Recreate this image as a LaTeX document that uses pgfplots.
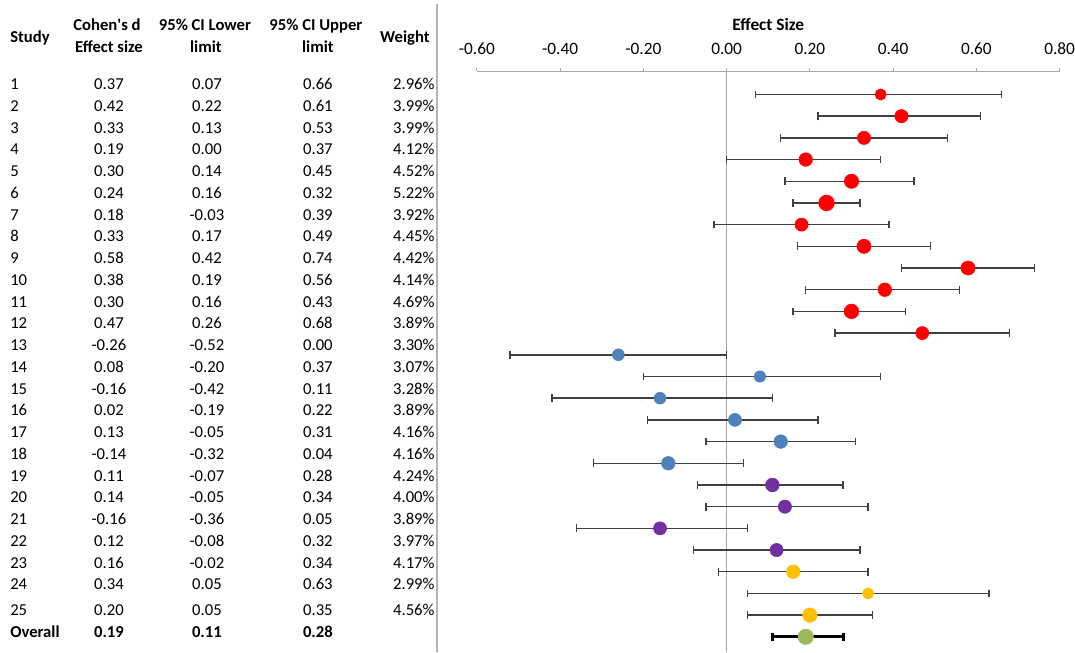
\documentclass[border=0pt]{standalone}
\usepackage{pgfplots}
\pgfplotsset{compat=1.18}
\usepackage{pgfplotstable}
\usepackage{fontspec}
\setmainfont{Carlito}

\definecolor{ered}{HTML}{FF0000}
\definecolor{eblue}{HTML}{4F81BD}
\definecolor{epurple}{HTML}{7030A0}
\definecolor{eyellow}{HTML}{FFC000}
\definecolor{egreen}{HTML}{9BBB59}
\definecolor{cigray}{HTML}{404040}
\definecolor{axgray}{HTML}{A6A6A6}
\definecolor{sepgray}{HTML}{B4B4B4}

\pgfplotstableread{
study es lo hi w
1 0.37 0.07 0.66 2.96
2 0.42 0.22 0.61 3.99
3 0.33 0.13 0.53 3.99
4 0.19 0.00 0.37 4.12
5 0.30 0.14 0.45 4.52
6 0.24 0.16 0.32 5.22
7 0.18 -0.03 0.39 3.92
8 0.33 0.17 0.49 4.45
9 0.58 0.42 0.74 4.42
10 0.38 0.19 0.56 4.14
11 0.30 0.16 0.43 4.69
12 0.47 0.26 0.68 3.89
}\tabred
\pgfplotstableread{
study es lo hi w
13 -0.26 -0.52 0.00 3.30
14 0.08 -0.20 0.37 3.07
15 -0.16 -0.42 0.11 3.28
16 0.02 -0.19 0.22 3.89
17 0.13 -0.05 0.31 4.16
18 -0.14 -0.32 0.04 4.16
}\tabblue
\pgfplotstableread{
study es lo hi w
19 0.11 -0.07 0.28 4.24
20 0.14 -0.05 0.34 4.00
21 -0.16 -0.36 0.05 3.89
22 0.12 -0.08 0.32 3.97
}\tabpurple
\pgfplotstableread{
study es lo hi w
23 0.16 -0.02 0.34 4.17
24 0.34 0.05 0.63 2.99
25 0.20 0.05 0.35 4.56
}\tabyellow
\pgfplotstableread{
study es lo hi
26 0.19 0.11 0.28
}\taboverall

\newcommand{\tablerows}[1]{%
  \pgfplotstablegetrowsof{#1}%
  \pgfmathtruncatemacro{\nr}{\pgfplotsretval-1}%
  \foreach \r in {0,...,\nr}{%
    \pgfplotstablegetelem{\r}{study}\of{#1}\edef\st{\pgfplotsretval}%
    \pgfplotstablegetelem{\r}{es}\of{#1}\edef\es{\pgfplotsretval}%
    \pgfplotstablegetelem{\r}{lo}\of{#1}\edef\lo{\pgfplotsretval}%
    \pgfplotstablegetelem{\r}{hi}\of{#1}\edef\hi{\pgfplotsretval}%
    \pgfplotstablegetelem{\r}{w}\of{#1}\edef\w{\pgfplotsretval}%
    \ifnum\st=25 \def\yy{615.4}\else\pgfmathsetmacro{\yy}{84.3+(\st-1)*21.75+5.4}\fi
    \node[anchor=base west] at (10,\yy) {\st};
    \node[anchor=base] at (109,\yy) {\es};
    \node[anchor=base] at (207,\yy) {\lo};
    \node[anchor=base] at (318,\yy) {\hi};
    \node[anchor=base east] at (435,\yy) {\w\%};
  }%
}

\pgfplotsset{
  cibars/.style={only marks, mark=none, forget plot,
    error bars/x dir=both, error bars/x explicit,
    error bars/error mark=|,
    error bars/error bar style={draw=#1, line width=1.1pt},
    error bars/error mark options={draw=#1, line width=1.1pt, mark size=2.9pt}},
  dots/.style={scatter, only marks, mark=*,
    scatter/use mapped color={draw=#1, fill=#1},
    visualization depends on={2.0+0.75*\thisrow{w} \as \msz},
    scatter/@pre marker code/.append style={/tikz/mark size=\msz pt}},
}

\begin{document}
\begin{tikzpicture}
\begin{scope}[x=0.75pt,y=-0.75pt,font=\fontsize{12.5}{15}\selectfont, inner sep=0pt]
  \path[use as bounding box] (0,0) rectangle (1075,652);
  \draw[sepgray, line width=1.2pt] (437,4) -- (437,652);
  % headers
  \begin{scope}[font=\fontsize{12.5}{15}\selectfont\bfseries]
    \node[anchor=base west] at (10,42.4) {Study};
    \node[anchor=base] at (107,30.4) {Cohen\textquotesingle s d};
    \node[anchor=base] at (109,52.4) {Effect size};
    \node[anchor=base] at (205,30.4) {95\% CI Lower};
    \node[anchor=base] at (206,52.4) {limit};
    \node[anchor=base] at (316,30.4) {95\% CI Upper};
    \node[anchor=base] at (318,52.4) {limit};
    \node[anchor=base] at (405,42.4) {Weight};
  \end{scope}
  \tablerows{\tabred}
  \tablerows{\tabblue}
  \tablerows{\tabpurple}
  \tablerows{\tabyellow}
  \begin{scope}[font=\fontsize{12.5}{15}\selectfont\bfseries]
    \node[anchor=base west] at (10,637.4) {Overall};
    \node[anchor=base] at (109,637.4) {0.19};
    \node[anchor=base] at (207,637.4) {0.11};
    \node[anchor=base] at (318,637.4) {0.28};
  \end{scope}
  \node[font=\fontsize{13}{15}\selectfont\bfseries, anchor=base] at (768.5,31) {Effect Size};
\end{scope}

\begin{axis}[
  at={(357.75pt,-489pt)}, anchor=south west,
  scale only axis, width=437.25pt, height=435.375pt,
  xmin=-0.6, xmax=0.8, ymin=-26.69, ymax=0.06,
  axis x line*=top, axis y line=none,
  x axis line style={draw=axgray, line width=0.8pt, -},
  xtick={-0.6,-0.4,-0.2,0,0.2,0.4,0.6,0.8},
  xticklabels={-0.60,-0.40,-0.20,0.00,0.20,0.40,0.60,0.80},
  ytick=\empty,
  tick align=outside, major tick length=2.6pt,
  x tick style={draw=axgray, line width=0.8pt},
  xticklabel style={font=\fontsize{13}{15}\selectfont, anchor=base, inner sep=0pt, yshift=10.5pt},
  clip=false,
]
  \addplot[axgray, line width=1.1pt, forget plot] coordinates {(0,0.06) (0,-26.69)};

  \addplot[cibars=cigray] table[x=es, y expr=-\thisrow{study}, x error plus expr=\thisrow{hi}-\thisrow{es}, x error minus expr=\thisrow{es}-\thisrow{lo}] {\tabred};
  \addplot[cibars=cigray] table[x=es, y expr=-\thisrow{study}, x error plus expr=\thisrow{hi}-\thisrow{es}, x error minus expr=\thisrow{es}-\thisrow{lo}] {\tabblue};
  \addplot[cibars=cigray] table[x=es, y expr=-\thisrow{study}, x error plus expr=\thisrow{hi}-\thisrow{es}, x error minus expr=\thisrow{es}-\thisrow{lo}] {\tabpurple};
  \addplot[cibars=cigray] table[x=es, y expr=-\thisrow{study}, x error plus expr=\thisrow{hi}-\thisrow{es}, x error minus expr=\thisrow{es}-\thisrow{lo}] {\tabyellow};
  \addplot[only marks, mark=none, forget plot,
    error bars/x dir=both, error bars/x explicit,
    error bars/error mark=|,
    error bars/error bar style={draw=black, line width=2.5pt},
    error bars/error mark options={draw=black, line width=2.5pt, mark size=2.8pt}]
    table[x=es, y expr=-\thisrow{study}, x error plus expr=\thisrow{hi}-\thisrow{es}, x error minus expr=\thisrow{es}-\thisrow{lo}] {\taboverall};

  \addplot[dots=ered] table[x=es, y expr=-\thisrow{study}] {\tabred};
  \addplot[dots=eblue] table[x=es, y expr=-\thisrow{study}] {\tabblue};
  \addplot[dots=epurple] table[x=es, y expr=-\thisrow{study}] {\tabpurple};
  \addplot[dots=eyellow] table[x=es, y expr=-\thisrow{study}] {\tabyellow};
  \addplot[only marks, mark=*, mark size=5.8pt, draw=egreen, fill=egreen] table[x=es, y expr=-\thisrow{study}] {\taboverall};
\end{axis}
\end{tikzpicture}
\end{document}
